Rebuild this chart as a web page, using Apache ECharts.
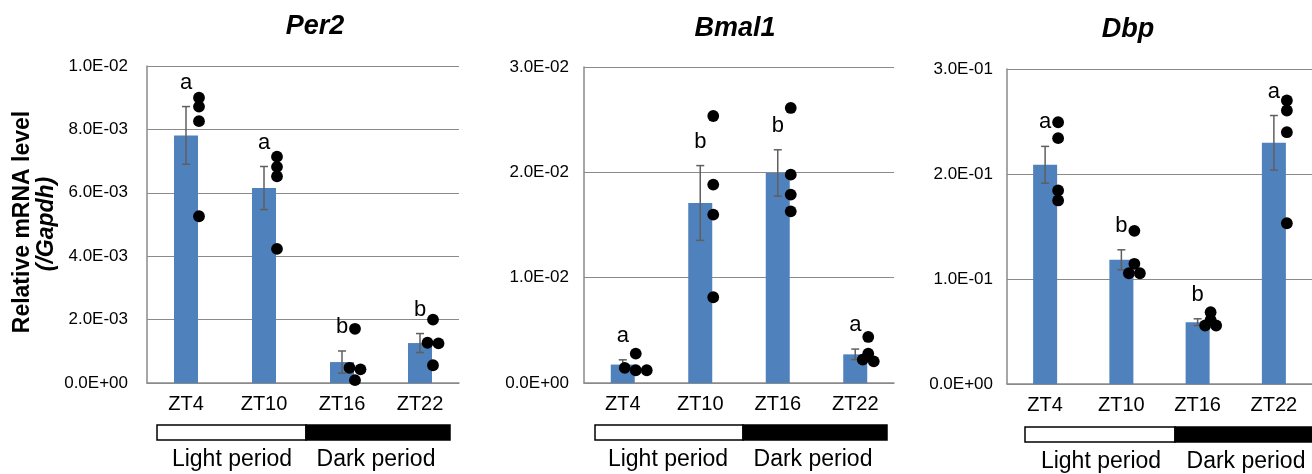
<!DOCTYPE html>
<html><head><meta charset="utf-8">
<script src="https://cdn.jsdelivr.net/npm/echarts@6/dist/echarts.min.js"></script>
<style>html,body{margin:0;padding:0;background:#fff}#c{width:1312px;height:474px}</style>
</head><body><div id="c"></div>
<script>
// ---------- data ----------
const categories = ['ZT4', 'ZT10', 'ZT16', 'ZT22'];
const geneNames = ['Per2', 'Bmal1', 'Dbp'];

const per2Mean = [7.81e-3, 6.15e-3, 0.66e-3, 1.26e-3];
const per2Sem = [0.91e-3, 0.68e-3, 0.35e-3, 0.30e-3];
const per2Dots = [
  [9.00e-3, 8.72e-3, 8.26e-3, 5.26e-3],
  [7.14e-3, 6.82e-3, 6.52e-3, 4.23e-3],
  [1.71e-3, 0.48e-3, 0.43e-3, 0.09e-3],
  [2.00e-3, 1.27e-3, 1.25e-3, 0.56e-3]
];
const per2Letters = ['a', 'a', 'b', 'b'];

const bmal1Mean = [1.75e-3, 17.09e-3, 19.94e-3, 2.72e-3];
const bmal1Sem = [0.45e-3, 3.55e-3, 2.20e-3, 0.50e-3];
const bmal1Dots = [
  [2.79e-3, 1.43e-3, 1.21e-3, 1.21e-3],
  [25.35e-3, 18.84e-3, 15.99e-3, 8.14e-3],
  [26.11e-3, 19.78e-3, 17.89e-3, 16.30e-3],
  [4.37e-3, 2.79e-3, 2.06e-3, 2.22e-3]
];
const bmal1Letters = ['a', 'b', 'b', 'a'];

const dbpMean = [0.2088, 0.1183, 0.0589, 0.2297];
const dbpSem = [0.0175, 0.0095, 0.0032, 0.0260];
const dbpDots = [
  [0.2493, 0.2341, 0.1843, 0.1748],
  [0.1459, 0.1145, 0.1055, 0.1055],
  [0.0684, 0.0611, 0.0557, 0.0557],
  [0.2700, 0.2605, 0.2398, 0.1531]
];
const dbpLetters = ['a', 'b', 'b', 'a'];

const yMax = [0.01, 0.03, 0.3];
const yInterval = [0.002, 0.01, 0.1];
const periodLabels = ['Light period', 'Dark period'];
const yAxisTitle = 'Relative mRNA level';
const yAxisSub = '(/Gapdh)';

// ---------- layout / style ----------
const FONT = '"Liberation Sans", Arial, Helvetica, sans-serif';
const BLUE = '#4F81BD';
const GRIDC = '#8a8a8a';
const layout = [
  { left: 147, top: 66, width: 312, height: 317, labelMargin: 19, title: [315, 27], bar: [157, 425, 149, 144], lab: [232, 376, 460] },
  { left: 584, top: 67, width: 310, height: 316, labelMargin: 15, title: [735, 29], bar: [595, 425, 148, 144], lab: [668, 813, 460] },
  { left: 1007, top: 69, width: 312, height: 315, labelMargin: 14, title: [1128, 30], bar: [1025, 427, 150, 144], lab: [1101, 1246, 462] }
];
const means = [per2Mean, bmal1Mean, dbpMean];
const sems = [per2Sem, bmal1Sem, dbpSem];
const dots = [per2Dots, bmal1Dots, dbpDots];
const letters = [per2Letters, bmal1Letters, dbpLetters];

function sci(v) {
  if (Math.abs(v) < 1e-12) return '0.0E+00';
  let e = Math.floor(Math.log10(Math.abs(v)) + 1e-9);
  let m = v / Math.pow(10, e);
  if (Math.round(m * 10) / 10 >= 10) { m /= 10; e++; }
  return m.toFixed(1) + 'E' + (e < 0 ? '-' : '+') + String(Math.abs(e)).padStart(2, '0');
}

const grid = [], xAxis = [], yAxis = [], series = [], graphic = [];

layout.forEach((L, p) => {
  grid.push({ left: L.left, top: L.top, width: L.width, height: L.height, containLabel: false });
  xAxis.push({
    type: 'category', gridIndex: p, data: categories,
    axisLine: { lineStyle: { color: GRIDC, width: 1.5 } },
    axisTick: { show: false },
    axisLabel: { color: '#000', fontSize: 20, fontFamily: FONT, margin: 11 }
  });
  yAxis.push({
    type: 'value', gridIndex: p, min: 0, max: yMax[p], interval: yInterval[p],
    axisLine: { show: true, lineStyle: { color: GRIDC, width: 1.5 } },
    axisTick: { show: false },
    splitLine: { lineStyle: { color: GRIDC, width: 1 } },
    axisLabel: { color: '#000', fontSize: 17, fontFamily: FONT, margin: L.labelMargin, formatter: sci }
  });

  series.push({
    type: 'bar', xAxisIndex: p, yAxisIndex: p, data: means[p], barWidth: 24,
    itemStyle: { color: BLUE }, z: 2, silent: true
  });

  const errData = categories.map((c, j) => [j, means[p][j], sems[p][j]]);
  series.push({
    type: 'custom', xAxisIndex: p, yAxisIndex: p, data: errData, z: 3, silent: true,
    renderItem: function (params, api) {
      const j = api.value(0), m = api.value(1), s = api.value(2);
      const hi = api.coord([j, m + s]), lo = api.coord([j, m - s]);
      const st = { stroke: '#5f5f5f', lineWidth: 1.5 };
      return {
        type: 'group', children: [
          { type: 'line', shape: { x1: hi[0], y1: hi[1], x2: lo[0], y2: lo[1] }, style: st },
          { type: 'line', shape: { x1: hi[0] - 4, y1: hi[1], x2: hi[0] + 4, y2: hi[1] }, style: st },
          { type: 'line', shape: { x1: lo[0] - 4, y1: lo[1], x2: lo[0] + 4, y2: lo[1] }, style: st }
        ]
      };
    }
  });

  series.push({
    type: 'custom', xAxisIndex: p, yAxisIndex: p, data: errData, z: 5, silent: true,
    renderItem: function (params, api) {
      const j = api.value(0), m = api.value(1), s = api.value(2);
      const hi = api.coord([j, m + s]);
      return {
        type: 'text', x: hi[0], y: hi[1] - 24,
        style: { text: letters[p][j], fontSize: 22, fontFamily: FONT, fill: '#000', align: 'center', verticalAlign: 'middle' }
      };
    }
  });

  const dotData = [];
  dots[p].forEach((arr, j) => arr.forEach((v, k) => dotData.push([j, v, k])));
  series.push({
    type: 'custom', xAxisIndex: p, yAxisIndex: p, data: dotData, z: 4, silent: true,
    renderItem: function (params, api) {
      const j = api.value(0), v = api.value(1), k = api.value(2);
      const ys = dots[p][j].map(d => api.coord([j, d])[1]);
      const order = ys.map((y, i) => i).sort((a, b) => ys[a] - ys[b]);
      const off = new Array(ys.length);
      let group = [order[0]];
      const flush = () => {
        const n = group.length;
        group.forEach((gi, t) => { off[gi] = 13 + (t - (n - 1) / 2) * 11; });
      };
      for (let q = 1; q < order.length; q++) {
        if (ys[order[q]] - ys[group[group.length - 1]] < 5) group.push(order[q]);
        else { flush(); group = [order[q]]; }
      }
      flush();
      const c = api.coord([j, v]);
      return { type: 'circle', shape: { cx: c[0] + off[k], cy: c[1], r: 5.9 }, style: { fill: '#000' } };
    }
  });

  // title
  graphic.push({
    type: 'text', x: L.title[0], y: L.title[1],
    style: { text: geneNames[p], fontSize: 27, fontWeight: 'bold', fontStyle: 'italic', fontFamily: FONT, fill: '#000', align: 'center', verticalAlign: 'middle' }
  });
  // light/dark bar
  const b = L.bar;
  graphic.push({ type: 'rect', shape: { x: b[0], y: b[1], width: b[2], height: 15 }, style: { fill: '#fff', stroke: '#000', lineWidth: 1.5 } });
  graphic.push({ type: 'rect', shape: { x: b[0] + b[2], y: b[1], width: b[3], height: 15 }, style: { fill: '#000', stroke: '#000', lineWidth: 1.5 } });
  graphic.push({
    type: 'text', x: L.lab[0], y: L.lab[2],
    style: { text: periodLabels[0], fontSize: 23, fontFamily: FONT, fill: '#000', align: 'center', verticalAlign: 'middle' }
  });
  graphic.push({
    type: 'text', x: L.lab[1], y: L.lab[2],
    style: { text: periodLabels[1], fontSize: 23, fontFamily: FONT, fill: '#000', align: 'center', verticalAlign: 'middle' }
  });
});

graphic.push({
  type: 'text', x: 23, y: 222, rotation: Math.PI / 2,
  style: { text: yAxisTitle, fontSize: 23, fontWeight: 'bold', fontFamily: FONT, fill: '#000', align: 'center', verticalAlign: 'middle' }
});
graphic.push({
  type: 'text', x: 47, y: 224, rotation: Math.PI / 2,
  style: { text: yAxisSub, fontSize: 23, fontWeight: 'bold', fontStyle: 'italic', fontFamily: FONT, fill: '#000', align: 'center', verticalAlign: 'middle' }
});

const chart = echarts.init(document.getElementById('c'), null, { renderer: 'canvas' });
chart.setOption({ animation: false, backgroundColor: '#fff', grid, xAxis, yAxis, series, graphic });
</script></body></html>
